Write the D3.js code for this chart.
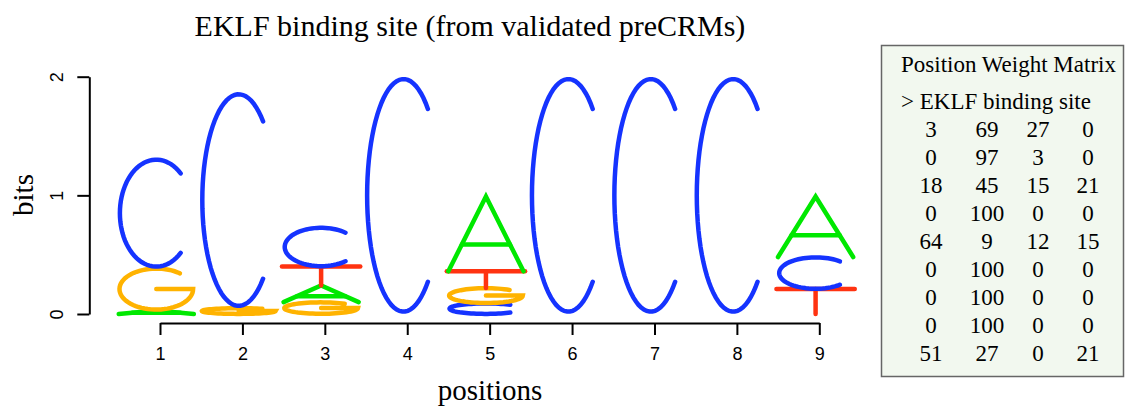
<!DOCTYPE html>
<meta charset="utf-8">
<style>
body { margin: 0; background: #fff; }
.serif { font-family: "Liberation Serif", "Times New Roman", serif; fill: #000; }
.axis path, .axis line { stroke: #000; stroke-width: 2px; }
.letter { fill: none; stroke-width: 4.5px; stroke-linecap: round; stroke-linejoin: miter; }
</style>
<svg width="1125" height="408"></svg>
<script src="https://cdnjs.cloudflare.com/ajax/libs/d3/7.8.5/d3.min.js"></script>
<script>

// logo heights (bits), one value per position
var positions = [1, 2, 3, 4, 5, 6, 7, 8, 9];
var heightA = [0.03, 0,    0.14, 0, 0.63, 0, 0, 0, 0.51];
var heightC = [0.92, 1.82, 0.33, 2, 0.09, 2, 2, 2, 0.27];
var heightG = [0.36, 0.05, 0.10, 0, 0.13, 0, 0, 0, 0];
var heightT = [0,    0,    0.16, 0, 0.14, 0, 0, 0, 0.21];

// position weight matrix shown in the side box (A C G T per row)
var pwmA = [3, 0, 18, 0, 64, 0, 0, 0, 51];
var pwmC = [69, 97, 45, 100, 9, 100, 100, 100, 27];
var pwmG = [27, 3, 15, 0, 12, 0, 0, 0, 0];
var pwmT = [0, 0, 21, 0, 15, 0, 0, 0, 21];

var yTicks = [0, 1, 2];
var letterColor = { A: "#00e800", C: "#1533ff", G: "#ffb300", T: "#ff3311" };

var svg = d3.select("svg");

var x = d3.scaleLinear().domain([1, 9]).range([160, 819.3]);
var y = d3.scaleLinear().domain([0, 2]).range([314, 76.7]);

// axes
var yAxis = svg.append("g")
    .attr("class", "axis")
    .attr("transform", "translate(89.3,0)")
    .call(d3.axisLeft(y).tickValues(yTicks).tickSize(12).tickSizeOuter(0).tickPadding(0).tickFormat(d3.format("d")));
yAxis.selectAll("text")
    .attr("x", null).attr("dy", null)
    .attr("text-anchor", "middle")
    .attr("transform", "translate(-26,0) rotate(-90)");

var xAxis = svg.append("g")
    .attr("class", "axis")
    .attr("transform", "translate(0,323)")
    .call(d3.axisBottom(x).tickValues(positions).tickSize(12).tickSizeOuter(0).tickPadding(12).tickFormat(d3.format("d")));

svg.selectAll(".axis text")
    .style("font-size", "18px")
    .style("font-family", "'Liberation Sans', Arial, Helvetica, sans-serif")
    .style("fill", "#000");

// glyph outlines in a unit box, v goes up
function ellipsePts(a0, a1, cx, cy, rx, ry) {
  var pts = [], n = 60;
  for (var i = 0; i <= n; i++) {
    var a = (a0 + (a1 - a0) * i / n) * Math.PI / 180;
    pts.push([cx + rx * Math.cos(a), cy + ry * Math.sin(a)]);
  }
  return pts;
}

function glyph(letter) {
  if (letter == "C") return [ellipsePts(48, 312, 0.5, 0.5, 0.465, 0.49)];
  if (letter == "G") {
    var arc = ellipsePts(50, 360, 0.5, 0.5, 0.47, 0.48);
    arc.push([0.5, 0.5]);
    return [arc];
  }
  if (letter == "A") return [[[0.02, 0], [0.5, 1], [0.98, 0]], [[0.193, 0.36], [0.807, 0.36]]];
  if (letter == "T") return [[[0, 1], [1, 1]], [[0.5, 1], [0.5, 0]]];
}

var stacks = positions.map(function(p, i) {
  var parts = [
    { letter: "A", h: heightA[i] },
    { letter: "C", h: heightC[i] },
    { letter: "G", h: heightG[i] },
    { letter: "T", h: heightT[i] }
  ].filter(function(d) { return d.h > 0; })
   .sort(function(a, b) { return a.h - b.h; });
  var base = 0;
  parts.forEach(function(d) { d.pos = p; d.y0 = base; base += d.h; d.y1 = base; });
  return parts;
});

var line = d3.line();
var logo = svg.append("g");

stacks.forEach(function(parts) {
  parts.forEach(function(d) {
    var x0 = x(d.pos - 0.52), x1 = x(d.pos + 0.43);
    var b = y(d.y0), t = y(d.y1);
    glyph(d.letter).forEach(function(stroke) {
      logo.append("path")
          .attr("class", "letter")
          .attr("stroke", letterColor[d.letter])
          .attr("d", line(stroke.map(function(q) {
            return [x0 + q[0] * (x1 - x0), b + q[1] * (t - b)];
          })));
    });
  });
});

// titles
svg.append("text").attr("class", "serif")
    .attr("x", 470).attr("y", 36)
    .attr("text-anchor", "middle").style("font-size", "30px")
    .text("EKLF binding site (from validated preCRMs)");

svg.append("text").attr("class", "serif")
    .attr("x", 490).attr("y", 400)
    .attr("text-anchor", "middle").style("font-size", "29px")
    .text("positions");

svg.append("text").attr("class", "serif")
    .attr("transform", "translate(33,195) rotate(-90)")
    .attr("text-anchor", "middle").style("font-size", "29px")
    .text("bits");

// matrix box
var box = svg.append("g");
box.append("rect")
    .attr("x", 881.5).attr("y", 45.5)
    .attr("width", 242).attr("height", 331)
    .attr("fill", "#f2f8ef").attr("stroke", "#666").attr("stroke-width", 1.5);

box.append("text").attr("class", "serif")
    .attr("x", 901).attr("y", 72).style("font-size", "23px")
    .text("Position Weight Matrix");
box.append("text").attr("class", "serif")
    .attr("x", 901).attr("y", 109).style("font-size", "23px")
    .text("> EKLF binding site");

var colX = [931, 987, 1038, 1088];
positions.forEach(function(p, i) {
  [pwmA[i], pwmC[i], pwmG[i], pwmT[i]].forEach(function(v, j) {
    box.append("text").attr("class", "serif")
        .attr("x", colX[j]).attr("y", 137 + 28 * i)
        .attr("text-anchor", "middle").style("font-size", "23px")
        .text(v);
  });
});

</script>
